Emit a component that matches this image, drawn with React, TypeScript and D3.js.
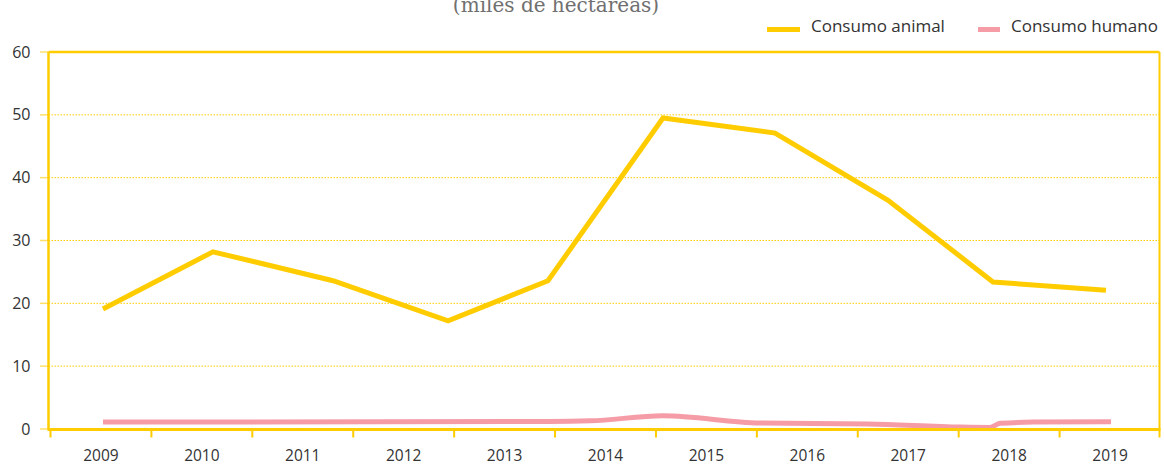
import React from "react";
import * as d3 from "d3";

const years = [2009, 2010, 2011, 2012, 2013, 2014, 2015, 2016, 2017, 2018, 2019];
const yTicks = [0, 10, 20, 30, 40, 50, 60];

// x positions are fractional years (observations fall inside each year band)
const animalT = [2009.52, 2010.61, 2011.8, 2012.94, 2013.93, 2015.07, 2016.18, 2017.3, 2018.34, 2019.46];
const animalV = [19.1, 28.2, 23.6, 17.2, 23.6, 49.5, 47.1, 36.4, 23.4, 22.1];

const humanT = [2009.52, 2013.93, 2014.35, 2015.07, 2016.03, 2017.1, 2018.02, 2018.31, 2018.41, 2018.74, 2019.51];
const humanV = [1.1, 1.2, 1.3, 2.1, 0.95, 0.8, 0.3, 0.25, 0.9, 1.1, 1.15];

const YELLOW = "#FFCC00";
const PINK = "#F59CA7";
const TEXT = "#333333";
const FONT = "'Open Sans', 'Noto Sans', sans-serif";

export default function App() {
  const W = 1164, H = 465;
  const left = 48.5, right = 1159.5, top = 52, bottom = 429;
  const x = d3.scaleLinear().domain([2009, 2020]).range([50.5, 1160.5]);
  const y = d3.scaleLinear().domain([0, 60]).range([bottom, top]);

  const animal = animalT.map((t, i) => [t, animalV[i]] as [number, number]);
  const human = humanT.map((t, i) => [t, humanV[i]] as [number, number]);
  const lineLin = d3.line<[number, number]>().x(d => x(d[0])).y(d => y(d[1]));
  const lineMono = d3.line<[number, number]>().x(d => x(d[0])).y(d => y(d[1])).curve(d3.curveMonotoneX);

  const tickPos = d3.range(2009, 2021);

  return (
    <svg width={W} height={H} style={{ display: "block", position: "absolute", left: 0, top: 0 }}>
      <text x={556} y={12} textAnchor="middle" fontFamily="'DejaVu Serif', serif" fontSize={20} fill="#707070">
        (miles de hectareas)
      </text>

      {/* legend */}
      <line x1={767} x2={800} y1={29.5} y2={29.5} stroke={YELLOW} strokeWidth={5} />
      <text x={811} y={32} fontFamily={FONT} fontSize={17} fill={TEXT}>Consumo animal</text>
      <line x1={978} x2={1000} y1={29.5} y2={29.5} stroke={PINK} strokeWidth={5} />
      <text x={1011} y={32} fontFamily={FONT} fontSize={17} fill={TEXT}>Consumo humano</text>

      {/* gridlines */}
      {yTicks.filter(v => v > 0 && v < 60).map(v => (
        <line key={"g" + v} x1={left} x2={right} y1={y(v)} y2={y(v)} stroke={YELLOW} strokeWidth={1} strokeDasharray="1.5,1.5" />
      ))}
      {/* y tick marks */}
      {yTicks.map(v => (
        <line key={"yt" + v} x1={40} x2={left} y1={y(v)} y2={y(v)} stroke={YELLOW} strokeOpacity={0.6} strokeWidth={1.5} />
      ))}
      {yTicks.map(v => (
        <text key={"yl" + v} x={30.5} y={y(v)} dy="0.35em" textAnchor="end" fontFamily={FONT} fontSize={16} fill={TEXT}>{v}</text>
      ))}

      {/* frame */}
      <line x1={left} x2={right} y1={top} y2={top} stroke={YELLOW} strokeWidth={2.5} />
      <line x1={left} x2={left} y1={top} y2={bottom} stroke={YELLOW} strokeWidth={2.5} />
      <line x1={right} x2={right} y1={top} y2={bottom} stroke={YELLOW} strokeWidth={2} />

      {/* lines */}
      <path d={lineMono(human) || ""} fill="none" stroke={PINK} strokeWidth={5} />
      <path d={lineLin(animal) || ""} fill="none" stroke={YELLOW} strokeWidth={5} />

      {/* x axis */}
      <line x1={left - 1} x2={right + 1} y1={bottom + 0.5} y2={bottom + 0.5} stroke={YELLOW} strokeWidth={3} />
      {tickPos.map(t => (
        <line key={"xt" + t} x1={Math.min(x(t), right)} x2={Math.min(x(t), right)} y1={bottom} y2={bottom + 8.5} stroke={YELLOW} strokeWidth={2} />
      ))}
      {years.map(yr => (
        <text key={"xl" + yr} x={x(yr + 0.5)} y={461} textAnchor="middle" fontFamily={FONT} fontSize={15.5} fill={TEXT}>{yr}</text>
      ))}
    </svg>
  );
}
